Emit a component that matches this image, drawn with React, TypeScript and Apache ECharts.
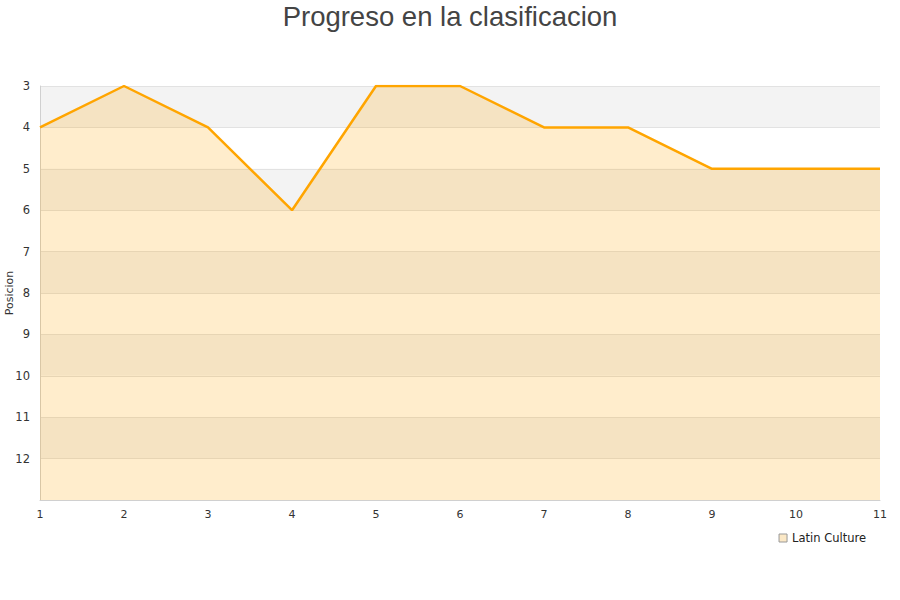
import React, { useEffect, useRef } from "react";
import * as echarts from "echarts";

const jornadas = ["1", "2", "3", "4", "5", "6", "7", "8", "9", "10", "11"];
const posiciones = [4, 3, 4, 6, 3, 3, 4, 4, 5, 5, 5];
const seriesName = "Latin Culture";
const titleText = "Progreso en la clasificacion";
const yName = "Posicion";

export default function App() {
  const ref = useRef<HTMLDivElement>(null);
  useEffect(() => {
    const chart = echarts.init(ref.current!, null, { renderer: "svg" });
    chart.setOption({
      animation: false,
      backgroundColor: "#ffffff",
      title: {
        text: titleText,
        left: "center",
        top: -3,
        textStyle: {
          fontFamily: "Liberation Sans",
          fontSize: 27.5,
          fontWeight: "normal",
          color: "#444444",
        },
      },
      grid: { left: 40, right: 20, top: 86, bottom: 100, containLabel: false, outerBoundsMode: "none" },
      legend: {
        right: 29,
        top: 527,
        itemWidth: 8,
        itemHeight: 8,
        itemGap: 6,
        icon: "rect",
        textStyle: { fontFamily: "DejaVu Sans", fontSize: 11.5, color: "#222" },
        data: [
          {
            name: seriesName,
            itemStyle: { color: "#fbe8c6", borderColor: "#999", borderWidth: 1 },
          },
        ],
      },
      xAxis: {
        type: "category",
        data: jornadas,
        boundaryGap: false,
        axisLine: { show: true, lineStyle: { color: "#d0d0d0" } },
        axisTick: { show: false },
        axisLabel: { fontFamily: "DejaVu Sans", fontSize: 11, color: "#333", margin: 9 },
        splitLine: { show: false },
      },
      yAxis: {
        type: "value",
        inverse: true,
        min: 3,
        max: 13,
        interval: 1,
        name: yName,
        nameLocation: "middle",
        nameGap: 25,
        nameMoveOverlap: false,
        nameTextStyle: { fontFamily: "DejaVu Sans", fontSize: 11, color: "#333" },
        axisLine: { show: true, lineStyle: { color: "#d0d0d0" } },
        axisTick: { show: false },
        axisLabel: {
          fontFamily: "DejaVu Sans",
          fontSize: 11.5,
          color: "#333",
          margin: 10,
          formatter: (v: number) => (v === 13 ? "" : String(v)),
        },
        splitLine: { show: true, lineStyle: { color: "#e2e2e2" } },
        splitArea: { show: true, areaStyle: { color: ["#f3f3f3", "#ffffff"] } },
      },
      series: [
        {
          name: seriesName,
          type: "line",
          data: posiciones,
          symbol: "none",
          lineStyle: { color: "#ffa500", width: 2.5 },
          itemStyle: { color: "#ffa500" },
          areaStyle: { color: "#ffa500", opacity: 0.2, origin: "end" },
        },
      ],
    });
    return () => chart.dispose();
  }, []);
  return (
    <div
      ref={ref}
      style={{ position: "fixed", left: 0, top: 0, width: 900, height: 600 }}
    />
  );
}
